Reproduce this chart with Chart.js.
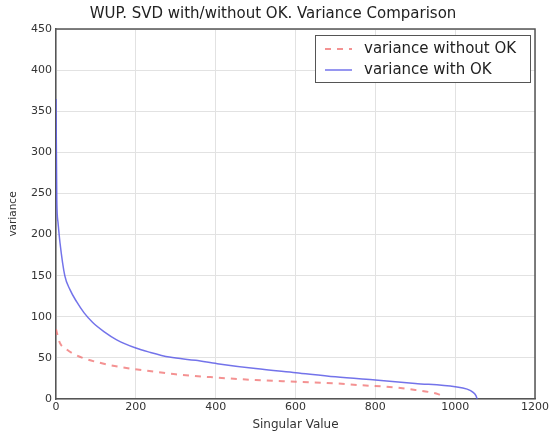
<!DOCTYPE html>
<html>
<head>
<meta charset="utf-8">
<script src="https://cdn.jsdelivr.net/npm/chart.js@4/dist/chart.umd.min.js"></script>
<style>
  html, body { margin: 0; padding: 0; background: #fff; }
  #wrap { width: 551px; height: 442px; }
</style>
</head>
<body>
<div id="wrap"><canvas id="grafico"></canvas></div>
<script>
// valores
const semOK_x = [0, 2, 10, 25, 40, 67, 110, 160, 234, 300, 404, 500, 601, 700, 758, 850, 900, 940, 957, 970];
const semOK_y = [85, 81, 68, 61, 56, 50, 44, 39, 34, 30, 26, 23, 21, 19, 17, 14, 11, 8, 6, 3];

const comOK_x = [0, 2, 5, 10, 22, 35, 52, 70, 92, 120, 152, 200, 234, 284, 350, 404, 500, 601, 700, 800, 900, 1000, 1030, 1045, 1052, 1055];
const comOK_y = [365, 242, 215, 190, 150, 133, 118, 105, 93, 82, 72, 62, 57, 51, 47, 43, 37, 32, 27, 23, 19, 15, 12, 8, 4, 0];

const xTicks = [0, 200, 400, 600, 800, 1000, 1200];
const yTicks = [0, 50, 100, 150, 200, 250, 300, 350, 400, 450];

const fonte = 'DejaVu Sans';

function pontos(xs, ys) {
  return xs.map((x, i) => ({ x: x, y: ys[i] }));
}

// moldura completa + legenda dentro da área do gráfico (estilo matplotlib)
const legendaInterna = {
  id: 'legendaInterna',
  afterDraw(chart) {
    const c = chart.ctx;
    const a = chart.chartArea;
    c.save();
    c.strokeStyle = '#555';
    c.lineWidth = 1.5;
    c.beginPath();
    c.moveTo(a.left, a.top);
    c.lineTo(a.right, a.top);
    c.lineTo(a.right, a.bottom);
    c.stroke();

    c.fillStyle = '#fff';
    c.lineWidth = 1;
    c.fillRect(315.5, 35.5, 215, 47);
    c.strokeRect(315.5, 35.5, 215, 47);
    c.font = '15px ' + fonte;
    c.textBaseline = 'middle';
    chart.data.datasets.forEach((ds, i) => {
      const y = 49 + i * 21;
      c.strokeStyle = ds.borderColor;
      c.lineWidth = ds.borderWidth;
      c.setLineDash(ds.borderDash || []);
      c.beginPath();
      c.moveTo(325, y);
      c.lineTo(352, y);
      c.stroke();
      c.setLineDash([]);
      c.fillStyle = '#222';
      c.fillText(ds.label, 364, y);
    });
    c.restore();
  }
};

const ctx = document.getElementById('grafico').getContext('2d');
const grafico = new Chart(ctx, {
  type: 'line',
  data: {
    datasets: [{
      label: 'variance without OK',
      data: pontos(semOK_x, semOK_y),
      borderColor: 'rgba(240, 110, 110, 0.75)',
      borderWidth: 2,
      borderDash: [6, 6],
      pointRadius: 0,
      cubicInterpolationMode: 'monotone',
      fill: false
    }, {
      label: 'variance with OK',
      data: pontos(comOK_x, comOK_y),
      borderColor: 'rgba(90, 90, 230, 0.85)',
      borderWidth: 1.5,
      pointRadius: 0,
      cubicInterpolationMode: 'monotone',
      fill: false
    }]
  },
  options: {
    responsive: true,
    maintainAspectRatio: false,
    animation: false,
    layout: { padding: { left: 7, right: 12, top: 0, bottom: 0 } },
    scales: {
      x: {
        type: 'linear',
        min: 0,
        max: 1200,
        afterBuildTicks: (s) => { s.ticks = xTicks.map(v => ({ value: v })); },
        afterFit: (s) => { s.height = 43; },
        ticks: { color: '#333', font: { family: fonte, size: 11 }, padding: 2, callback: (v) => String(v) },
        grid: { color: '#e2e2e2', drawTicks: false },
        border: { color: '#555', width: 1.5 },
        title: { display: true, text: 'Singular Value', color: '#333', font: { family: fonte, size: 12 }, padding: { top: 0, bottom: 10 } }
      },
      y: {
        min: 0,
        max: 450,
        afterBuildTicks: (s) => { s.ticks = yTicks.map(v => ({ value: v })); },
        afterFit: (s) => { s.width = 49; },
        ticks: { color: '#333', font: { family: fonte, size: 11 }, padding: 4, callback: (v) => String(v) },
        grid: { color: '#e2e2e2', drawTicks: false },
        border: { color: '#555', width: 1.5 },
        title: { display: true, text: 'variance', color: '#333', font: { family: fonte, size: 10.5 }, padding: 0 }
      }
    },
    plugins: {
      legend: { display: false },
      tooltip: { enabled: false },
      title: {
        display: true,
        text: 'WUP. SVD with/without OK. Variance Comparison',
        color: '#222',
        font: { family: fonte, size: 15, weight: 'normal' },
        padding: { top: 5, bottom: 6 }
      }
    }
  },
  plugins: [legendaInterna]
});
</script>
</body>
</html>
